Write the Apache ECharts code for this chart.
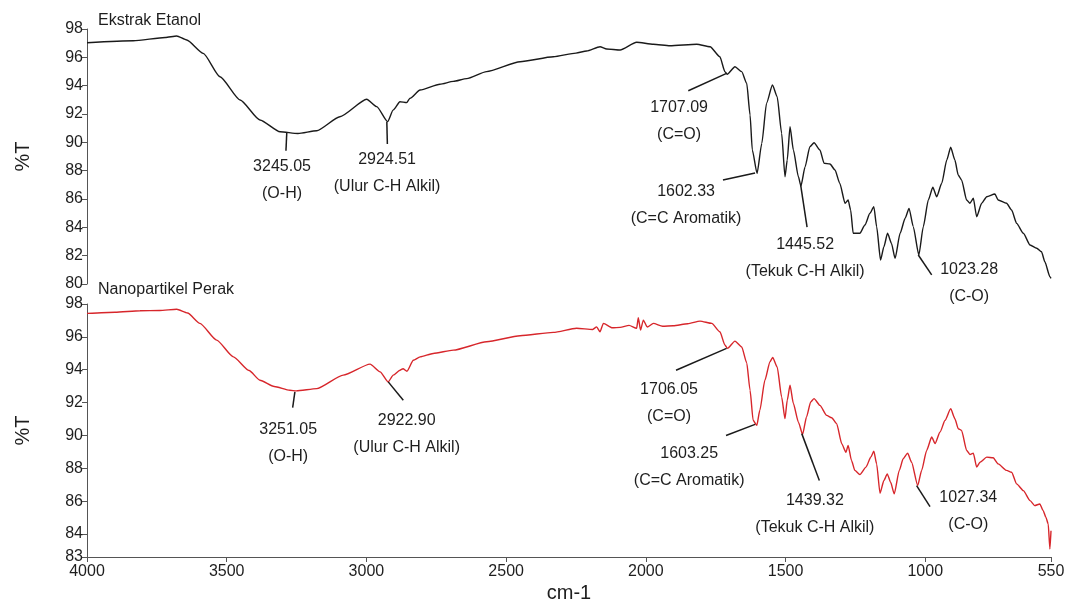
<!DOCTYPE html>
<html>
<head>
<meta charset="utf-8">
<title>FTIR Ekstrak Etanol / Nanopartikel Perak</title>
<script src="https://cdn.jsdelivr.net/npm/echarts@6/dist/echarts.min.js"></script>
<style>
  html, body { margin: 0; padding: 0; background: #fff; }
  #chart { width: 1067px; height: 600px; }
</style>
</head>
<body>
<div id="chart"></div>
<script>
// spectrum 1: Ekstrak Etanol (wavenumber, %T)
const topWave = [4000, 3834, 3720, 3679, 3643, 3584, 3524, 3452, 3381, 3309, 3245, 3178, 3095, 2999, 2963, 2924, 2904, 2880, 2856, 2844, 2808,
  2737, 2689, 2641, 2570, 2450, 2331, 2250, 2212, 2164, 2140, 2092, 2033, 1973, 1914, 1818, 1770, 1735, 1717, 1709, 1681, 1657, 1639,
  1627, 1619, 1602, 1585, 1568, 1547, 1530, 1514, 1502, 1494, 1484, 1472, 1454, 1445, 1430, 1413, 1398, 1377, 1362, 1341, 1323, 1306,
  1287, 1276, 1267, 1258, 1234, 1216, 1198, 1184, 1174, 1160, 1148, 1135, 1121, 1108, 1090, 1072, 1058, 1043, 1023, 1007, 989, 973,
  959, 941, 923, 909, 894, 882, 870, 852, 840, 828, 816, 798, 780, 751, 739, 709, 691, 673, 649, 625, 601, 584, 572, 554, 550];
const topT = [97.03, 97.17, 97.4, 97.51, 97.22, 96.28, 94.63, 92.99, 91.58, 90.75, 90.62, 90.82, 91.81, 93.04, 92.52, 91.46, 92.29, 92.87, 92.8, 93.11, 93.69,
  94.1, 94.3, 94.5, 94.99, 95.69, 96.04, 96.3, 96.45, 96.75, 96.59, 96.52, 97.06, 96.92, 96.82, 96.92, 96.75, 96.04, 94.99, 94.8, 95.34, 94.99, 94.17,
  91.93, 89.46, 87.81, 89.93, 92.76, 94.05, 93.22, 90.64, 87.57, 88.75, 91.1, 89.46, 87.57, 86.92, 88.28, 89.69, 89.97, 89.46, 88.52, 88.47, 88.05, 87.11,
  85.7, 85.93, 85.22, 83.58, 83.58, 84.16, 84.99, 85.46, 84.05, 81.69, 82.63, 83.58, 82.87, 81.81, 83.58, 84.64, 85.34, 84.05, 82.05, 84.05, 85.93, 86.83,
  86.16, 87.11, 88.75, 89.65, 88.75, 87.69, 87.34, 85.93, 85.7, 86.05, 84.75, 85.7, 86.16, 86.35, 85.93, 85.7, 85.22, 84.28, 83.58, 82.75, 82.52, 82.28, 81.57, 80.52, 80.4];

// spectrum 2: Nanopartikel Perak (wavenumber, %T)
const botWave = [4000, 3900, 3810, 3740, 3679, 3640, 3596, 3536, 3476, 3420, 3381, 3330, 3274, 3251, 3178, 3083, 2987, 2951, 2922, 2904, 2880,
  2869, 2855, 2832, 2808, 2761, 2689, 2570, 2450, 2331, 2248, 2190, 2176, 2164, 2152, 2120, 2092, 2060, 2033, 2027, 2019, 2009, 1995,
  1973, 1940, 1902, 1850, 1806, 1764, 1735, 1717, 1708, 1681, 1657, 1639, 1627, 1616, 1603, 1592, 1574, 1556, 1546, 1530, 1514, 1502,
  1494, 1484, 1472, 1454, 1439, 1425, 1410, 1398, 1377, 1353, 1335, 1317, 1299, 1284, 1276, 1264, 1252, 1234, 1212, 1195, 1184, 1174,
  1162, 1148, 1136, 1124, 1111, 1093, 1079, 1063, 1049, 1027, 1013, 995, 977, 965, 947, 929, 909, 894, 882, 870, 852, 840, 828, 816,
  804, 780, 757, 739, 709, 691, 673, 649, 625, 608, 590, 578, 568, 560, 554, 550];
const botT = [97.43, 97.5, 97.59, 97.6, 97.68, 97.45, 96.82, 95.8, 94.78, 93.95, 93.36, 92.98, 92.75, 92.71, 92.85, 93.67, 94.34, 93.87, 93.26, 93.67, 93.97,
  94.06, 93.91, 94.58, 94.78, 94.99, 95.19, 95.7, 96.07, 96.27, 96.52, 96.45, 96.61, 96.31, 96.82, 96.55, 96.58, 96.7, 96.52, 97.16, 96.41, 97.02, 96.6,
  96.82, 96.65, 96.68, 96.8, 96.96, 96.82, 96.31, 95.5, 95.3, 95.74, 95.39, 94.42, 92.75, 90.92, 90.61, 91.53, 93.36, 94.48, 94.75, 94.17, 92.34, 91.02,
  92.14, 93.05, 91.94, 90.81, 90.06, 91.12, 92.04, 92.24, 91.83, 91.22, 91.08, 90.72, 89.5, 88.98, 89.39, 88.48, 87.87, 87.62, 88.07, 88.68, 89.04, 88.27,
  86.48, 87.26, 87.66, 87.15, 86.44, 87.87, 88.58, 88.92, 88.37, 86.95, 87.87, 89.09, 89.9, 89.5, 90.21, 90.92, 91.63, 91.02, 90.41, 90.31, 89.09, 88.84, 88.92, 88.07,
  88.37, 88.68, 88.64, 88.27, 87.87, 87.76, 87.05, 86.64, 86.03, 85.73, 85.83, 85.42, 85.01, 84.61, 83.09, 84.2];

const xTicks = [4000, 3500, 3000, 2500, 2000, 1500, 1000, 550];
const botTicks = [82.6, 84, 86, 88, 90, 92, 94, 96, 98];

const topPeaks = ['3245.05', '2924.51', '1707.09', '1602.33', '1445.52', '1023.28'];
const topGroups = ['(O-H)', '(Ulur C-H Alkil)', '(C=O)', '(C=C Aromatik)', '(Tekuk C-H Alkil)', '(C-O)'];
const botPeaks = ['3251.05', '2922.90', '1706.05', '1603.25', '1439.32', '1027.34'];
const botGroups = ['(O-H)', '(Ulur C-H Alkil)', '(C=O)', '(C=C Aromatik)', '(Tekuk C-H Alkil)', '(C-O)'];

// annotation layout in data units: leader from -> to, text anchor at
const topNotes = [
  { from: [3285, 90.7], to: [3288, 89.4], at: [3302, 87.3] },
  { from: [2927, 91.46], to: [2925, 89.88], at: [2926, 87.8] },
  { from: [1711, 94.87], to: [1848, 93.64], at: [1881, 91.5] },
  { from: [1609, 87.84], to: [1724, 87.34], at: [1856, 85.54] },
  { from: [1446, 86.99], to: [1423, 84.02], at: [1430, 81.81] },
  { from: [1025, 82.05], to: [977, 80.64], at: [843, 80.09] }
];
const botNotes = [
  { from: [3256, 92.65], to: [3264, 91.69], at: [3280, 89.54] },
  { from: [2922, 93.26], to: [2868, 92.14], at: [2856, 90.08] },
  { from: [1711, 95.3], to: [1892, 93.97], at: [1917, 91.94] },
  { from: [1609, 90.67], to: [1713, 90.0], at: [1845, 88.07] },
  { from: [1442, 90.11], to: [1379, 87.26], at: [1395, 85.2] },
  { from: [1031, 86.95], to: [983, 85.67], at: [846, 85.42] }
];

const font = "'Liberation Sans', Arial, sans-serif";
const ink = '#1e1e1e';
const axisColor = '#555';

const zip = (xs, ys) => xs.map((x, i) => [x, ys[i]]);
const leaders = notes => notes.map(n => [{ coord: n.from }, { coord: n.to }]);
const labelData = (notes, peaks, groups) =>
  notes.map((n, i) => ({ value: n.at, name: peaks[i] + '\n' + groups[i] }));

const yAxisBase = {
  type: 'value',
  name: '%T',
  nameLocation: 'middle',
  nameGap: 54,
  nameTextStyle: { fontSize: 20, color: ink, fontFamily: font },
  axisLine: { show: true, lineStyle: { color: axisColor, width: 1 } },
  axisTick: { show: true, length: 5, lineStyle: { color: axisColor } },
  axisLabel: { fontSize: 16, color: ink, fontFamily: font, margin: 4 },
  splitLine: { show: false }
};

const markLineStyle = {
  symbol: ['none', 'none'],
  silent: true,
  label: { show: false },
  lineStyle: { color: '#1a1a1a', width: 1.5, type: 'solid' },
  emphasis: { disabled: true }
};

const labelSeries = (xi, data) => ({
  type: 'scatter',
  xAxisIndex: xi,
  yAxisIndex: xi,
  symbolSize: 1,
  itemStyle: { color: '#fff' },
  clip: false,
  silent: true,
  data: data,
  label: {
    show: true,
    position: 'inside',
    formatter: '{b}',
    fontSize: 16,
    lineHeight: 27,
    color: ink,
    opacity: 1,
    textBorderWidth: 0,
    fontFamily: font,
    align: 'center'
  }
});

const chart = echarts.init(document.getElementById('chart'));
chart.setOption({
  animation: false,
  backgroundColor: '#fff',
  title: [
    { text: 'Ekstrak Etanol', left: 98, top: 13, padding: 0,
      textStyle: { fontSize: 16, fontWeight: 'normal', color: ink, fontFamily: font } },
    { text: 'Nanopartikel Perak', left: 98, top: 282, padding: 0,
      textStyle: { fontSize: 16, fontWeight: 'normal', color: ink, fontFamily: font } }
  ],
  grid: [
    { left: 87, right: 16, top: 29, height: 255, containLabel: false, outerBoundsMode: 'none' },
    { left: 87, right: 16, top: 304, height: 253, containLabel: false, outerBoundsMode: 'none' }
  ],
  xAxis: [
    { type: 'value', gridIndex: 0, min: 550, max: 4000, inverse: true, show: false },
    {
      type: 'value', gridIndex: 1, min: 550, max: 4000, inverse: true,
      name: 'cm-1', nameLocation: 'middle', nameGap: 26,
      nameTextStyle: { fontSize: 20, color: ink, fontFamily: font },
      axisLine: { show: true, lineStyle: { color: axisColor, width: 1 } },
      axisTick: { show: true, length: 5, customValues: xTicks, lineStyle: { color: axisColor } },
      axisLabel: { customValues: xTicks, fontSize: 16, color: ink, fontFamily: font, margin: 7,
        formatter: v => String(v) },
      splitLine: { show: false }
    }
  ],
  yAxis: [
    Object.assign({}, yAxisBase, { gridIndex: 0, min: 80, max: 98, interval: 2 }),
    Object.assign({}, yAxisBase, {
      gridIndex: 1, min: 82.6, max: 98,
      axisTick: Object.assign({}, yAxisBase.axisTick, { customValues: botTicks }),
      axisLabel: Object.assign({}, yAxisBase.axisLabel, {
        customValues: botTicks,
        formatter: v => String(Math.round(v))
      })
    })
  ],
  series: [
    {
      name: 'Ekstrak Etanol',
      type: 'line',
      xAxisIndex: 0,
      yAxisIndex: 0,
      data: zip(topWave, topT),
      symbol: 'none',
      smooth: 0.2,
      smoothMonotone: 'x',
      lineStyle: { color: '#1a1a1a', width: 1.4 },
      markLine: Object.assign({ data: leaders(topNotes) }, markLineStyle)
    },
    labelSeries(0, labelData(topNotes, topPeaks, topGroups)),
    {
      name: 'Nanopartikel Perak',
      type: 'line',
      xAxisIndex: 1,
      yAxisIndex: 1,
      data: zip(botWave, botT),
      symbol: 'none',
      smooth: 0.2,
      smoothMonotone: 'x',
      lineStyle: { color: '#d7262b', width: 1.4 },
      markLine: Object.assign({ data: leaders(botNotes) }, markLineStyle)
    },
    labelSeries(1, labelData(botNotes, botPeaks, botGroups))
  ]
});
</script>
</body>
</html>
